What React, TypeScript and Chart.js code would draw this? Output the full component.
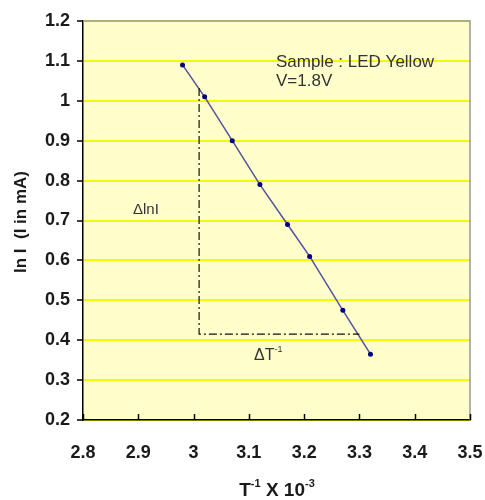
import React, { useEffect, useRef } from "react";
import { Chart, registerables } from "chart.js";

Chart.register(...registerables);

// Data
const xValues = [2.98, 3.02, 3.07, 3.12, 3.17, 3.21, 3.27, 3.32];
const yValues = [1.09, 1.01, 0.9, 0.79, 0.69, 0.61, 0.475, 0.365];

// Slope triangle (in data units)
const triangleX = [3.01, 3.3];
const triangleY = [1.032, 0.415];

const xAxisRange = [2.8, 3.5];
const yAxisRange = [0.2, 1.2];

const sampleLines = ["Sample : LED Yellow", "V=1.8V"];
const yTitle = "ln I  (I in mA)";

const FONT = '"Liberation Sans", Arial, sans-serif';

const decorPlugin = {
  id: "decor",
  beforeDraw(chart: any) {
    const { ctx, chartArea } = chart;
    ctx.save();
    ctx.fillStyle = "#ffffcc";
    ctx.fillRect(chartArea.left, chartArea.top, chartArea.right - chartArea.left, chartArea.bottom - chartArea.top);
    ctx.restore();
  },
  afterDraw(chart: any) {
    const { ctx, chartArea, scales } = chart;
    const xs = scales.x;
    const ys = scales.y;
    ctx.save();
    // top and right borders
    ctx.strokeStyle = "#999999";
    ctx.lineWidth = 1.5;
    ctx.beginPath();
    ctx.moveTo(chartArea.left, chartArea.top);
    ctx.lineTo(chartArea.right, chartArea.top);
    ctx.lineTo(chartArea.right, chartArea.bottom);
    ctx.stroke();

    // inward x ticks
    ctx.strokeStyle = "#000000";
    ctx.lineWidth = 1.5;
    ctx.beginPath();
    xs.ticks.forEach((t: any) => {
      const px = Math.round(xs.getPixelForValue(t.value)) + 0.5;
      ctx.moveTo(px, chartArea.bottom);
      ctx.lineTo(px, chartArea.bottom - 6);
    });
    ctx.stroke();

    // slope triangle (dash-dot)
    const tx0 = xs.getPixelForValue(triangleX[0]);
    const tx1 = xs.getPixelForValue(triangleX[1]);
    const ty0 = ys.getPixelForValue(triangleY[0]);
    const ty1 = ys.getPixelForValue(triangleY[1]);
    ctx.strokeStyle = "#111111";
    ctx.lineWidth = 1.2;
    ctx.setLineDash([8, 3, 2, 3]);
    ctx.beginPath();
    ctx.moveTo(tx0, ty0);
    ctx.lineTo(tx0, ty1);
    ctx.lineTo(tx1, ty1);
    ctx.stroke();
    ctx.setLineDash([]);

    // annotations
    ctx.fillStyle = "#333333";
    ctx.textBaseline = "alphabetic";
    ctx.textAlign = "left";
    ctx.font = `17px ${FONT}`;
    ctx.fillText(sampleLines[0], 276, 67);
    ctx.fillText(sampleLines[1], 276, 86);

    ctx.font = `15px ${FONT}`;
    ctx.fillText("\u0394lnI", 133, 214);

    // ΔT^-1
    ctx.font = `16px ${FONT}`;
    ctx.fillText("\u0394T", 254, 360);
    const dw = ctx.measureText("\u0394T").width;
    ctx.font = `9px ${FONT}`;
    ctx.fillText("-1", 254 + dw, 352);

    // x-axis title with superscripts
    ctx.fillStyle = "#1a1a1a";
    const parts: [string, boolean][] = [["T", false], ["-1", true], [" X 10", false], ["-3", true]];
    const mainFont = `bold 19px ${FONT}`;
    const supFont = `bold 11px ${FONT}`;
    let total = 0;
    parts.forEach(([s, sup]) => {
      ctx.font = sup ? supFont : mainFont;
      total += ctx.measureText(s).width;
    });
    let cx = 277 - total / 2;
    parts.forEach(([s, sup]) => {
      ctx.font = sup ? supFont : mainFont;
      ctx.fillText(s, cx, sup ? 487 : 496);
      cx += ctx.measureText(s).width;
    });

    // y-axis title
    ctx.save();
    ctx.translate(26, 222);
    ctx.rotate(-Math.PI / 2);
    ctx.textAlign = "center";
    ctx.font = `bold 17px ${FONT}`;
    ctx.fillText(yTitle, 0, 0);
    ctx.restore();

    ctx.restore();
  },
};

export default function App() {
  const ref = useRef<HTMLCanvasElement | null>(null);
  useEffect(() => {
    if (!ref.current) return;
    const chart = new Chart(ref.current, {
      type: "scatter",
      data: {
        datasets: [
          {
            data: xValues.map((x, i) => ({ x, y: yValues[i] })),
            showLine: true,
            borderColor: "#5252a0",
            borderWidth: 1.5,
            pointBackgroundColor: "#000080",
            pointBorderColor: "#000080",
            pointRadius: 2.5,
            pointBorderWidth: 0,
          },
        ],
      },
      options: {
        responsive: false,
        animation: false,
        layout: { padding: { top: 21, right: 15, left: 0, bottom: 0 } },
        plugins: { legend: { display: false }, tooltip: { enabled: false } },
        scales: {
          x: {
            type: "linear",
            min: xAxisRange[0],
            max: xAxisRange[1],
            ticks: {
              stepSize: 0.1,
              color: "#1a1a1a",
              font: { family: FONT, size: 18, weight: "bold" },
              padding: 22,
              maxRotation: 0,
              callback: (v: any) => String(Math.round(Number(v) * 10) / 10),
            },
            grid: { drawOnChartArea: false, drawTicks: false },
            border: { color: "#000000", width: 1.5 },
            afterFit: (s: any) => {
              s.height = 80;
              s.paddingLeft = 0;
              s.paddingRight = 0;
            },
          },
          y: {
            type: "linear",
            min: yAxisRange[0],
            max: yAxisRange[1],
            ticks: {
              stepSize: 0.1,
              color: "#1a1a1a",
              font: { family: FONT, size: 18, weight: "bold" },
              padding: 7,
              callback: (v: any) => String(Math.round(Number(v) * 10) / 10),
            },
            grid: {
              color: "#f8f800",
              lineWidth: 2,
              tickColor: "#000000",
              tickLength: 6,
              tickWidth: 1.5,
            },
            border: { color: "#000000", width: 1.5 },
            afterFit: (s: any) => {
              s.width = 83;
              s.paddingTop = 0;
              s.paddingBottom = 0;
            },
          },
        },
      },
      plugins: [decorPlugin],
    } as any);
    return () => chart.destroy();
  }, []);
  return (
    <div style={{ position: "absolute", left: 0, top: 0, width: 485, height: 500, background: "#ffffff" }}>
      <canvas ref={ref} width={485} height={500} />
    </div>
  );
}
